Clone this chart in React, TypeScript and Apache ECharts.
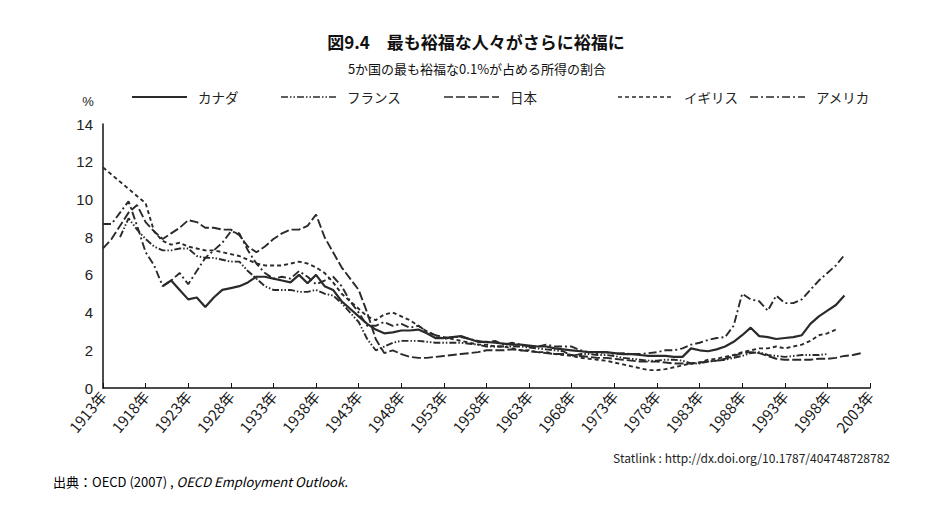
import React, { useEffect, useRef } from 'react';
import * as echarts from 'echarts';

// Categories: years 1913–2003
const years: string[] = Array.from({ length: 91 }, (_, i) => `${1913 + i}年`);

const seriesNames = ['カナダ', 'フランス', '日本', 'イギリス', 'アメリカ'];

// Values (percent), one per year 1913..2003, null = no data
const canada: (number | null)[] = [
  null, null, null, null, null, null, null, 5.4, 5.7, 5.2,
  4.7, 4.8, 4.3, 4.8, 5.2, 5.3, 5.4, 5.6, 5.9, 5.9,
  5.8, 5.7, 5.6, 6.0, 5.55, 6.0, 5.4, 5.2, 4.6, 4.2,
  3.8, 3.4, 3.1, 2.9, 2.95, 3.05, 3.05, 3.1, 2.9, 2.65,
  2.65, 2.7, 2.75, 2.6, 2.45, 2.45, 2.4, 2.35, 2.3, 2.3,
  2.25, 2.2, 2.2, 2.1, 2.05, 2.0, 1.95, 1.9, 1.9, 1.9,
  1.85, 1.8, 1.8, 1.75, 1.7, 1.7, 1.7, 1.65, 1.65, 2.1,
  2.0, 1.95, 2.05, 2.2, 2.45, 2.8, 3.2, 2.75, 2.7, 2.6,
  2.65, 2.7, 2.8, 3.4, 3.8, 4.1, 4.4, 4.9, null, null,
  null,
];

const france: (number | null)[] = [
  null, null, 8.0, 9.0, 8.4, 7.9, 7.5, 7.3, 7.3, 7.4,
  7.4, 7.0, 6.9, 6.9, 6.8, 6.7, 6.7, 6.2, 5.8, 5.4,
  5.2, 5.2, 5.2, 5.1, 5.1, 5.2, 5.0, 4.9, 4.5, 4.0,
  3.5, 2.6, 2.0, 2.2, 2.4, 2.5, 2.5, 2.5, 2.45, 2.4,
  2.4, 2.4, 2.4, 2.35, 2.3, 2.2, 2.2, 2.2, 2.2, 2.2,
  2.15, 2.1, 2.05, 2.0, 1.95, 1.7, 1.8, 1.8, 1.75, 1.75,
  1.7, 1.6, 1.55, 1.5, 1.45, 1.45, 1.5, 1.5, 1.45, 1.3,
  1.3, 1.4, 1.45, 1.5, 1.6, 1.7, 1.85, 1.9, 1.75, 1.7,
  1.65, 1.7, 1.75, 1.75, 1.75, 1.8, null, null, null, null,
  null,
];

const japan: (number | null)[] = [
  7.4, 7.9, 8.6, 9.3, 9.7, 8.8, 8.3, 7.9, 8.2, 8.5,
  8.9, 8.8, 8.5, 8.5, 8.4, 8.4, 8.1, 7.5, 7.2, 7.5,
  7.9, 8.2, 8.4, 8.4, 8.6, 9.2, 8.0, 7.2, 6.4, 5.8,
  5.2, 4.0, 2.6, 1.85, 2.0, 1.8, 1.65, 1.6, 1.6, 1.65,
  1.7, 1.75, 1.8, 1.85, 1.9, 2.0, 2.0, 2.0, 2.05, 2.0,
  1.95, 1.9, 1.85, 1.8, 1.8, 1.75, 1.7, 1.65, 1.6, 1.6,
  1.55, 1.5, 1.45, 1.4, 1.4, 1.4, 1.35, 1.3, 1.3, 1.3,
  1.35, 1.4, 1.45, 1.55, 1.7, 1.85, 1.9, 1.85, 1.7, 1.55,
  1.5, 1.5, 1.5, 1.5, 1.55, 1.55, 1.6, 1.7, 1.75, 1.85,
  null,
];

const uk: (number | null)[] = [
  11.7, null, null, null, null, 9.8, 8.3, 7.8, 7.6, 7.7,
  7.5, 7.4, 7.3, 7.3, 7.2, 7.1, 7.0, 6.8, 6.6, 6.5,
  6.5, 6.5, 6.6, 6.7, 6.6, 6.4, 6.1, 5.6, 5.0, 4.6,
  4.2, 3.8, 3.6, 3.9, 4.0, 3.8, 3.6, 3.3, 3.0, 2.8,
  2.7, 2.6, 2.5, 2.4, 2.3, 2.3, 2.2, 2.2, 2.1, 2.0,
  2.0, 1.9, 1.9, 1.8, 1.75, 1.7, 1.6, 1.55, 1.5, 1.45,
  1.35, 1.25, 1.15, 1.05, 0.95, 0.95, 1.0, 1.1, 1.2, 1.3,
  1.35, 1.5, 1.55, 1.65, 1.75, 1.9, 2.0, 2.1, 2.1, 2.2,
  2.1, 2.2, 2.3, 2.5, 2.8, 2.9, 3.1, null, null, null,
  null,
];

const usa: (number | null)[] = [
  8.7, 8.7, 9.3, 9.9, 8.6, 7.2, 6.5, 5.4, 5.7, 6.1,
  5.5, 6.2, 6.9, 7.3, 7.7, 8.3, 8.2, 7.3, 6.6, 6.1,
  5.8, 5.9, 5.8, 6.2, 5.9, 5.5, 5.7, 5.9, 5.4, 4.6,
  4.0, 3.3, 3.3, 3.5, 3.3, 3.4, 3.2, 3.3, 3.0, 2.8,
  2.6, 2.7, 2.7, 2.6, 2.5, 2.4, 2.5, 2.3, 2.4, 2.3,
  2.2, 2.2, 2.3, 2.2, 2.2, 2.2, 2.0, 1.9, 1.85, 1.9,
  1.8, 1.85, 1.8, 1.8, 1.85, 1.9, 2.0, 2.0, 2.1, 2.3,
  2.4, 2.55, 2.65, 2.7, 3.3, 5.0, 4.7, 4.6, 4.1, 4.9,
  4.5, 4.5, 4.7, 5.2, 5.7, 6.1, 6.5, 7.05, null, null,
  null,
];

const seriesValues = [canada, france, japan, uk, usa];

const yTicks = { min: 0, max: 14, interval: 2 };

const titleText = '図9.4　最も裕福な人々がさらに裕福に';
const subtitleText = '5か国の最も裕福な0.1%が占める所得の割合';
const statlinkText = 'Statlink : http://dx.doi.org/10.1787/404748728782';
const sourcePrefix = '出典：OECD (2007) , ';
const sourceItalic = 'OECD Employment Outlook.';

const JP = '"Noto Sans CJK JP", "Noto Sans", sans-serif';
const LINE_COLOR = '#2a2a2a';
const dashTypes: any[] = ['solid', [7, 2, 1.5, 2, 1.5, 2], [9, 3], [4, 3], [8, 3, 2, 3]];
const legendLefts = [132, 281, 444, 618, 750];
const LEGEND_Y = 97;
const LEGEND_LEN = 55;

export default function App() {
  const ref = useRef<HTMLDivElement>(null);

  useEffect(() => {
    if (!ref.current) return;
    const chart = echarts.init(ref.current, null, { renderer: 'svg' });

    const legendGraphics: any[] = [];
    seriesNames.forEach((name, i) => {
      const x0 = legendLefts[i];
      legendGraphics.push({
        type: 'line',
        shape: { x1: x0, y1: LEGEND_Y, x2: x0 + LEGEND_LEN, y2: LEGEND_Y },
        style: {
          stroke: LINE_COLOR,
          lineWidth: i === 0 ? 2 : 1.6,
          lineDash: dashTypes[i] === 'solid' ? null : dashTypes[i],
        },
      });
      legendGraphics.push({
        type: 'text',
        style: {
          text: name,
          x: x0 + LEGEND_LEN + 11,
          y: LEGEND_Y,
          textAlign: 'left',
          textVerticalAlign: 'middle',
          fontSize: 13.5,
          fontFamily: JP,
          fill: '#222',
        },
      });
    });

    const option: any = {
      animation: false,
      backgroundColor: '#ffffff',
      grid: { left: 103, right: 68, top: 124, bottom: 136, containLabel: false },
      xAxis: {
        type: 'category',
        data: years,
        boundaryGap: false,
        axisLine: { show: true, lineStyle: { color: '#111', width: 1.5 } },
        axisTick: { show: true, inside: true, length: 5, interval: 4, lineStyle: { color: '#111' } },
        axisLabel: {
          interval: 4,
          rotate: 50,
          fontSize: 15,
          margin: 5,
          color: '#1a1a1a',
          fontFamily: JP,
        },
        splitLine: { show: false },
      },
      yAxis: {
        type: 'value',
        min: yTicks.min,
        max: yTicks.max,
        interval: yTicks.interval,
        axisLine: { show: true, lineStyle: { color: '#111', width: 1.5 } },
        axisTick: { show: false },
        axisLabel: { fontSize: 15, color: '#222', margin: 10, fontFamily: '"Liberation Sans", Arial, sans-serif' },
        splitLine: { show: false },
      },
      series: seriesNames.map((name, i) => ({
        name,
        type: 'line',
        data: seriesValues[i],
        symbol: 'none',
        connectNulls: true,
        lineStyle: { color: LINE_COLOR, width: i === 0 ? 2.2 : 1.9, type: dashTypes[i] },
        itemStyle: { color: LINE_COLOR },
      })),
      graphic: [
        {
          type: 'text',
          style: {
            text: titleText,
            x: 476,
            y: 41,
            textAlign: 'center',
            textVerticalAlign: 'middle',
            fontSize: 17,
            fontWeight: 'bold',
            fontFamily: JP,
            fill: '#111',
          },
        },
        {
          type: 'text',
          style: {
            text: subtitleText,
            x: 477,
            y: 68,
            textAlign: 'center',
            textVerticalAlign: 'middle',
            fontSize: 13,
            fontFamily: JP,
            fill: '#111',
          },
        },
        {
          type: 'text',
          style: {
            text: '%',
            x: 88,
            y: 101,
            textAlign: 'center',
            textVerticalAlign: 'middle',
            fontSize: 13,
            fontFamily: '"Liberation Sans", Arial, sans-serif',
            fill: '#222',
          },
        },
        ...legendGraphics,
        {
          type: 'text',
          style: {
            text: statlinkText,
            x: 890,
            y: 457,
            textAlign: 'right',
            textVerticalAlign: 'middle',
            fontSize: 12,
            fontFamily: JP,
            fill: '#222',
          },
        },
        {
          type: 'text',
          style: {
            rich: {
              n: { fontSize: 13, fontFamily: JP, color: '#222' },
              i: { fontSize: 13, fontFamily: JP, fontStyle: 'italic', color: '#222' },
            },
            text: `{n|${sourcePrefix}}{i|${sourceItalic}}`,
            x: 53,
            y: 481,
            textAlign: 'left',
            textVerticalAlign: 'middle',
          },
        },
      ],
    };

    chart.setOption(option);
    return () => chart.dispose();
  }, []);

  return (
    <div
      ref={ref}
      style={{ position: 'fixed', left: 0, top: 0, width: 938, height: 524, background: '#fff' }}
    />
  );
}
